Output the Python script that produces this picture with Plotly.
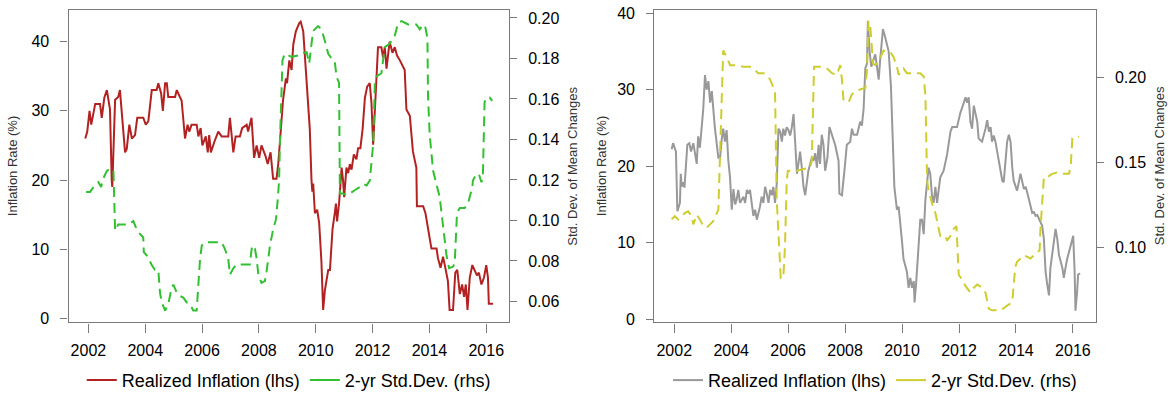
import plotly.graph_objects as go

# ---------------- data ----------------
# Left panel: realized inflation (lhs, %) and 2-yr std. dev. of mean changes (rhs)
left_infl_year = [2001.89, 2001.96, 2002.04, 2002.10, 2002.24, 2002.41, 2002.47, 2002.56, 2002.65, 2002.76,
                  2002.82, 2002.84, 2002.94, 2003.05, 2003.11, 2003.17, 2003.29, 2003.35, 2003.44, 2003.53,
                  2003.64, 2003.72, 2003.93, 2004.02, 2004.11, 2004.23, 2004.40, 2004.46, 2004.56, 2004.62,
                  2004.70, 2004.76, 2004.81, 2005.05, 2005.11, 2005.22, 2005.28, 2005.40, 2005.49, 2005.55,
                  2005.63, 2005.81, 2005.87, 2005.95, 2006.01, 2006.13, 2006.20, 2006.25, 2006.31, 2006.43,
                  2006.57, 2006.69, 2006.92, 2006.98, 2007.10, 2007.18, 2007.33, 2007.41, 2007.57, 2007.62,
                  2007.74, 2007.83, 2007.92, 2008.01, 2008.09, 2008.23, 2008.31, 2008.41, 2008.50, 2008.62,
                  2008.68, 2008.74, 2008.80, 2008.85, 2008.95, 2008.99, 2009.07, 2009.15, 2009.21, 2009.30,
                  2009.42, 2009.47, 2009.56, 2009.68, 2009.79, 2009.85, 2009.88, 2009.91, 2009.97, 2010.05,
                  2010.12, 2010.20, 2010.26, 2010.32, 2010.44, 2010.50, 2010.59, 2010.67, 2010.71, 2010.75,
                  2010.82, 2010.91, 2010.96, 2011.00, 2011.08, 2011.14, 2011.20, 2011.26, 2011.34, 2011.43,
                  2011.49, 2011.57, 2011.65, 2011.73, 2011.81, 2011.90, 2011.96, 2012.02, 2012.08, 2012.14,
                  2012.19, 2012.31, 2012.37, 2012.43, 2012.49, 2012.60, 2012.70, 2012.78, 2012.86, 2012.96,
                  2013.13, 2013.19, 2013.31, 2013.42, 2013.54, 2013.56, 2013.78, 2013.86, 2013.95, 2014.07,
                  2014.25, 2014.30, 2014.39, 2014.48, 2014.56, 2014.65, 2014.71, 2014.83, 2014.91, 2014.98,
                  2015.07, 2015.15, 2015.22, 2015.28, 2015.34, 2015.42, 2015.51, 2015.59, 2015.67, 2015.74,
                  2015.83, 2015.92, 2016.00, 2016.06, 2016.09, 2016.24]
left_infl_val = [26.0, 27.0, 30.0, 28.0, 31.0, 31.0, 29.0, 31.9, 33.0, 30.2,
                 20.0, 19.0, 31.6, 32.0, 33.0, 30.0, 24.0, 24.5, 28.0, 26.0,
                 26.5, 29.0, 29.0, 28.0, 28.5, 33.0, 33.0, 34.0, 32.5, 30.0,
                 34.0, 34.0, 32.0, 32.0, 33.0, 32.0, 31.5, 26.0, 28.0, 27.0,
                 28.0, 28.0, 26.3, 27.5, 25.0, 26.3, 24.0, 26.5, 24.0, 25.5,
                 27.0, 26.3, 26.3, 29.0, 24.0, 26.3, 26.3, 27.5, 28.0, 27.0,
                 29.0, 23.2, 25.0, 23.2, 25.0, 23.5, 22.3, 24.0, 20.2, 20.2,
                 22.3, 25.5, 28.6, 31.6, 34.7, 34.0, 37.3, 35.9, 39.6, 41.5,
                 42.7, 42.9, 41.5, 33.5, 27.4, 20.0, 18.3, 19.5, 15.2, 15.7,
                 13.8, 8.2, 1.2, 4.0, 7.0, 7.0, 12.9, 15.2, 16.6, 14.0,
                 16.6, 21.8, 20.0, 17.5, 21.8, 21.0, 22.3, 21.5, 23.7, 23.0,
                 24.6, 24.6, 27.4, 31.9, 33.5, 34.0, 31.2, 25.1, 29.8, 35.9,
                 39.2, 39.2, 37.7, 39.2, 36.1, 40.0, 38.4, 39.2, 38.0, 37.3,
                 35.9, 30.2, 29.3, 24.1, 21.8, 16.2, 16.2, 15.2, 12.9, 10.1,
                 10.1, 8.7, 7.3, 8.9, 7.3, 5.4, 1.2, 1.2, 6.6, 7.0,
                 3.5, 4.9, 3.1, 4.9, 1.2, 5.9, 7.7, 6.8, 6.2, 6.6,
                 4.9, 5.9, 7.7, 5.9, 2.1, 2.1]

left_sd_year = [2001.92, 2002.06, 2002.18, 2002.35, 2002.45, 2002.50, 2002.65, 2002.76, 2002.88, 2002.94,
                2003.05, 2003.23, 2003.41, 2003.58, 2003.70, 2003.82, 2003.93, 2003.95, 2004.05, 2004.23,
                2004.34, 2004.46, 2004.52, 2004.58, 2004.70, 2004.81, 2004.93, 2004.99, 2005.11, 2005.22,
                2005.34, 2005.46, 2005.57, 2005.69, 2005.81, 2005.93, 2005.99, 2006.10, 2006.39, 2006.69,
                2006.80, 2006.92, 2006.98, 2007.10, 2007.22, 2007.45, 2007.68, 2007.76, 2007.86, 2007.92,
                2007.98, 2008.09, 2008.21, 2008.27, 2008.39, 2008.50, 2008.60, 2008.66, 2008.71, 2008.74,
                2008.83, 2008.91, 2009.03, 2009.15, 2009.38, 2009.44, 2009.68, 2009.77, 2009.85, 2009.91,
                2010.08, 2010.20, 2010.32, 2010.44, 2010.56, 2010.67, 2010.73, 2010.82, 2010.85, 2010.96,
                2011.08, 2011.20, 2011.37, 2011.55, 2011.67, 2011.79, 2011.90, 2012.02, 2012.08, 2012.14,
                2012.31, 2012.43, 2012.60, 2012.72, 2012.78, 2012.90, 2013.02, 2013.25, 2013.54, 2013.66,
                2013.78, 2013.86, 2013.93, 2013.95, 2014.01, 2014.13, 2014.25, 2014.30, 2014.36, 2014.44,
                2014.48, 2014.54, 2014.60, 2014.69, 2014.83, 2014.89, 2014.92, 2014.97, 2015.07, 2015.24,
                2015.36, 2015.44, 2015.51, 2015.53, 2015.65, 2015.74, 2015.83, 2015.88, 2015.94, 2016.00,
                2016.12, 2016.21]
left_sd_val = [0.1141, 0.1141, 0.1165, 0.1189, 0.1165, 0.1200, 0.1245, 0.1254, 0.1250, 0.0950,
               0.0980, 0.0980, 0.0980, 0.0997, 0.0956, 0.0932, 0.0916, 0.0844, 0.0828, 0.0780,
               0.0756, 0.0756, 0.0643, 0.0595, 0.0555, 0.0587, 0.0667, 0.0683, 0.0643, 0.0627,
               0.0619, 0.0595, 0.0587, 0.0555, 0.0555, 0.0812, 0.0876, 0.0892, 0.0892, 0.0892,
               0.0860, 0.0812, 0.0732, 0.0764, 0.0783, 0.0783, 0.0783, 0.0876, 0.0860, 0.0812,
               0.0732, 0.0692, 0.0700, 0.0748, 0.0876, 0.0956, 0.1005, 0.1100, 0.1197, 0.1390,
               0.1791, 0.1823, 0.1815, 0.1808, 0.1815, 0.1823, 0.1831, 0.1775, 0.1872, 0.1936,
               0.1960, 0.1944, 0.1888, 0.1823, 0.1800, 0.1784, 0.1711, 0.1679, 0.1133, 0.1133,
               0.1125, 0.1133, 0.1149, 0.1165, 0.1181, 0.1173, 0.1197, 0.1374, 0.1679, 0.1711,
               0.1727, 0.1856, 0.1872, 0.1903, 0.1912, 0.1976, 0.1984, 0.1968, 0.1968, 0.1944,
               0.1968, 0.1952, 0.1900, 0.1615, 0.1422, 0.1245, 0.1165, 0.1149, 0.1117, 0.1021,
               0.0980, 0.0916, 0.0828, 0.0764, 0.0772, 0.0788, 0.0908, 0.1037, 0.1061, 0.1061,
               0.1085, 0.1133, 0.1165, 0.1197, 0.1229, 0.1229, 0.1189, 0.1213, 0.1583, 0.1607,
               0.1607, 0.1591]

# Right panel
right_infl_year = [2001.91, 2001.96, 2002.06, 2002.11, 2002.20, 2002.23, 2002.26, 2002.30, 2002.36, 2002.40,
                   2002.46, 2002.53, 2002.59, 2002.67, 2002.73, 2002.79, 2002.84, 2002.90, 2002.96, 2003.02,
                   2003.08, 2003.14, 2003.20, 2003.26, 2003.32, 2003.37, 2003.43, 2003.55, 2003.61, 2003.67,
                   2003.72, 2003.78, 2003.84, 2003.90, 2003.96, 2004.02, 2004.08, 2004.14, 2004.19, 2004.25,
                   2004.31, 2004.43, 2004.49, 2004.55, 2004.60, 2004.66, 2004.78, 2004.84, 2004.90, 2005.01,
                   2005.07, 2005.13, 2005.19, 2005.25, 2005.31, 2005.37, 2005.43, 2005.48, 2005.54, 2005.60,
                   2005.66, 2005.72, 2005.78, 2005.83, 2005.89, 2005.95, 2006.01, 2006.07, 2006.13, 2006.19,
                   2006.25, 2006.31, 2006.36, 2006.42, 2006.48, 2006.54, 2006.60, 2006.66, 2006.71, 2006.83,
                   2006.89, 2006.95, 2007.01, 2007.07, 2007.12, 2007.18, 2007.24, 2007.30, 2007.38, 2007.45,
                   2007.54, 2007.65, 2007.77, 2007.80, 2007.89, 2007.94, 2008.00, 2008.06, 2008.18, 2008.24,
                   2008.30, 2008.42, 2008.47, 2008.53, 2008.59, 2008.65, 2008.71, 2008.77, 2008.80, 2008.86,
                   2008.92, 2009.00, 2009.06, 2009.12, 2009.18, 2009.24, 2009.33, 2009.41, 2009.53, 2009.61,
                   2009.68, 2009.73, 2009.82, 2009.88, 2010.00, 2010.05, 2010.17, 2010.23, 2010.29, 2010.35,
                   2010.41, 2010.44, 2010.50, 2010.58, 2010.64, 2010.70, 2010.76, 2010.82, 2010.88, 2010.93,
                   2010.99, 2011.05, 2011.11, 2011.17, 2011.23, 2011.29, 2011.34, 2011.46, 2011.58, 2011.70,
                   2011.76, 2011.93, 2012.05, 2012.17, 2012.23, 2012.29, 2012.34, 2012.40, 2012.46, 2012.52,
                   2012.58, 2012.64, 2012.69, 2012.81, 2012.93, 2012.99, 2013.05, 2013.11, 2013.16, 2013.22,
                   2013.28, 2013.40, 2013.46, 2013.52, 2013.57, 2013.69, 2013.75, 2013.81, 2013.87, 2013.92,
                   2014.04, 2014.16, 2014.28, 2014.34, 2014.40, 2014.45, 2014.51, 2014.57, 2014.63, 2014.69,
                   2014.75, 2014.80, 2014.86, 2014.92, 2014.98, 2015.04, 2015.10, 2015.16, 2015.21, 2015.27,
                   2015.33, 2015.39, 2015.45, 2015.51, 2015.63, 2015.68, 2015.74, 2015.80, 2015.92, 2016.01,
                   2016.06, 2016.09, 2016.15, 2016.18, 2016.25]
right_infl_val = [22.2, 23.0, 21.9, 14.1, 15.2, 19.0, 17.3, 17.9, 17.2, 19.8,
                  22.8, 23.0, 21.9, 23.0, 21.5, 20.3, 23.9, 22.4, 24.9, 27.5,
                  31.9, 30.0, 31.1, 28.3, 29.8, 27.0, 24.9, 21.1, 21.1, 23.6,
                  24.9, 23.2, 24.7, 20.7, 18.5, 14.3, 17.0, 15.0, 15.6, 16.9,
                  15.2, 16.0, 15.2, 16.9, 16.4, 16.9, 13.5, 14.3, 13.0, 14.7,
                  16.0, 15.2, 17.3, 16.4, 15.2, 16.9, 16.2, 17.3, 15.2, 17.7,
                  24.9, 24.5, 23.2, 24.9, 24.0, 25.1, 24.7, 24.0, 25.1, 26.8,
                  23.6, 19.0, 20.3, 21.9, 19.8, 17.3, 16.2, 18.5, 19.4, 21.1,
                  20.7, 21.7, 19.8, 22.8, 20.3, 24.1, 22.8, 19.4, 21.1, 25.1,
                  24.1, 22.8, 20.7, 16.4, 16.2, 18.5, 20.3, 22.8, 23.2, 24.9,
                  24.1, 24.1, 24.9, 25.8, 25.3, 27.5, 32.8, 33.4, 39.0, 35.0,
                  33.0, 33.8, 34.6, 33.0, 31.3, 34.3, 37.9, 36.8, 35.0, 30.4,
                  21.9, 17.3, 14.3, 14.7, 10.1, 7.9, 6.2, 4.1, 5.4, 4.1,
                  5.0, 2.2, 5.0, 9.6, 13.0, 13.0, 11.1, 15.6, 18.1, 19.8,
                  19.0, 16.2, 15.2, 17.3, 15.2, 17.3, 18.5, 19.4, 21.5, 24.5,
                  25.1, 25.1, 27.0, 28.3, 29.0, 28.3, 29.0, 25.8, 24.9, 27.9,
                  27.0, 25.8, 23.6, 23.2, 24.9, 26.0, 24.5, 25.1, 23.2, 24.0,
                  23.2, 20.7, 19.8, 18.1, 17.9, 23.2, 24.1, 23.2, 19.8, 18.1,
                  16.8, 19.0, 17.0, 17.3, 16.5, 15.6, 14.7, 13.9, 14.0, 13.5,
                  13.6, 13.2, 12.8, 12.2, 10.5, 6.2, 4.5, 3.1, 6.7, 8.4,
                  9.6, 11.8, 10.5, 8.4, 6.7, 5.4, 6.7, 7.9, 9.6, 10.9,
                  6.2, 1.1, 3.7, 5.8, 6.0]

right_sd_year = [2001.91, 2002.02, 2002.14, 2002.26, 2002.38, 2002.49, 2002.61, 2002.67, 2002.79, 2002.90,
                 2003.02, 2003.14, 2003.26, 2003.37, 2003.47, 2003.55, 2003.58, 2003.67, 2003.72, 2003.84,
                 2003.96, 2004.19, 2004.43, 2004.66, 2004.78, 2004.95, 2005.13, 2005.25, 2005.37, 2005.46,
                 2005.54, 2005.60, 2005.66, 2005.72, 2005.74, 2005.83, 2005.89, 2005.95, 2005.99, 2006.07,
                 2006.31, 2006.54, 2006.77, 2006.83, 2006.91, 2007.12, 2007.36, 2007.54, 2007.71, 2007.83,
                 2007.89, 2007.94, 2008.00, 2008.12, 2008.24, 2008.36, 2008.53, 2008.71, 2008.77, 2008.82,
                 2008.88, 2008.94, 2008.98, 2009.06, 2009.18, 2009.30, 2009.35, 2009.47, 2009.59, 2009.70,
                 2009.82, 2009.88, 2009.96, 2010.05, 2010.17, 2010.41, 2010.64, 2010.76, 2010.82, 2010.88,
                 2010.93, 2011.05, 2011.17, 2011.29, 2011.34, 2011.52, 2011.58, 2011.70, 2011.81, 2011.91,
                 2011.95, 2011.99, 2012.11, 2012.23, 2012.40, 2012.52, 2012.64, 2012.81, 2012.93, 2013.05,
                 2013.16, 2013.46, 2013.69, 2013.87, 2013.92, 2013.98, 2014.04, 2014.16, 2014.28, 2014.40,
                 2014.51, 2014.63, 2014.75, 2014.83, 2014.86, 2014.92, 2014.98, 2015.10, 2015.27, 2015.45,
                 2015.63, 2015.86, 2015.92, 2015.98, 2016.09, 2016.21]
right_sd_val = [0.1166, 0.1185, 0.1166, 0.1185, 0.1204, 0.1213, 0.1185, 0.1137, 0.1194, 0.1166,
                0.1127, 0.1118, 0.1137, 0.1156, 0.1194, 0.1223, 0.1394, 0.1947, 0.2156, 0.2118,
                0.2070, 0.2070, 0.2061, 0.2061, 0.2051, 0.2023, 0.2023, 0.2013, 0.1985, 0.1947,
                0.1909, 0.1280, 0.1100, 0.0918, 0.0823, 0.0823, 0.1013, 0.1394, 0.1451, 0.1451,
                0.1451, 0.1461, 0.1470, 0.1509, 0.2061, 0.2061, 0.2051, 0.2023, 0.2013, 0.2070,
                0.1985, 0.1870, 0.1861, 0.1851, 0.1899, 0.1918, 0.1927, 0.1937, 0.2042, 0.2327,
                0.2309, 0.2137, 0.2080, 0.2070, 0.2099, 0.2137, 0.2156, 0.2147, 0.2147, 0.2118,
                0.2061, 0.2013, 0.2033, 0.2051, 0.2023, 0.2023, 0.2023, 0.2004, 0.1890, 0.1394,
                0.1337, 0.1261, 0.1204, 0.1109, 0.1070, 0.1070, 0.1042, 0.1070, 0.1109, 0.1127,
                0.1013, 0.0842, 0.0813, 0.0775, 0.0737, 0.0766, 0.0785, 0.0766, 0.0737, 0.0642,
                0.0633, 0.0633, 0.0661, 0.0680, 0.0785, 0.0890, 0.0918, 0.0937, 0.0956, 0.0947,
                0.0937, 0.0956, 0.0975, 0.0985, 0.1109, 0.1242, 0.1413, 0.1413, 0.1433, 0.1442,
                0.1433, 0.1433, 0.1470, 0.1642, 0.1651, 0.1651]

year_ticks = [2002, 2004, 2006, 2008, 2010, 2012, 2014, 2016]
left_lhs_ticks = [0, 10, 20, 30, 40]
left_rhs_ticks = [0.06, 0.08, 0.10, 0.12, 0.14, 0.16, 0.18, 0.20]
right_lhs_ticks = [0, 10, 20, 30, 40]
right_rhs_ticks = [0.10, 0.15, 0.20]

lhs_title = "Inflation Rate (%)"
rhs_title = "Std. Dev. of Mean Changes"
name_infl = "Realized Inflation (lhs)"
name_sd = "2-yr Std.Dev. (rhs)"

# ---------------- styles ----------------
FONT = "Liberation Sans, Arial, sans-serif"
RED = "#B22222"
GREEN = "#32C032"
GRAY = "#999999"
YELLOW = "#CDCD30"
BOX = "#7a7a7a"

fig = go.Figure()

fig.add_trace(go.Scatter(x=left_infl_year, y=left_infl_val, mode="lines",
                         line=dict(color=RED, width=2), xaxis="x", yaxis="y",
                         showlegend=False, hoverinfo="skip"))
fig.add_trace(go.Scatter(x=left_sd_year, y=left_sd_val, mode="lines",
                         line=dict(color=GREEN, width=2, dash="10px,6px"), xaxis="x", yaxis="y2",
                         showlegend=False, hoverinfo="skip"))
fig.add_trace(go.Scatter(x=right_infl_year, y=right_infl_val, mode="lines",
                         line=dict(color=GRAY, width=2), xaxis="x2", yaxis="y3",
                         showlegend=False, hoverinfo="skip"))
fig.add_trace(go.Scatter(x=right_sd_year, y=right_sd_val, mode="lines",
                         line=dict(color=YELLOW, width=2, dash="10px,6px"), xaxis="x2", yaxis="y4",
                         showlegend=False, hoverinfo="skip"))

# legend entries (solid keys, as in the reference)
for nm, col, lg, xa, ya in [(name_infl, RED, "legend", "x", "y"), (name_sd, GREEN, "legend", "x", "y"),
                            (name_infl, GRAY, "legend2", "x2", "y3"), (name_sd, YELLOW, "legend2", "x2", "y3")]:
    fig.add_trace(go.Scatter(x=[None], y=[None], mode="lines", name=nm,
                             line=dict(color=col, width=2), legend=lg, xaxis=xa, yaxis=ya))

W, H = 1172, 401
top_px, bot_px = 5, 325.6
ydom = [1 - bot_px / H, 1 - top_px / H]
xdom_l = [68.5 / W, 509 / W]
xdom_r = [654.3 / W, 1095.7 / W]

tickfont = dict(family=FONT, size=16, color="#000000")

def xax(dom, anchor):
    return dict(domain=dom, anchor=anchor, range=[2001.30, 2016.80], tickvals=year_ticks,
                showline=True, linecolor=BOX, linewidth=1.2, mirror=True,
                ticks="outside", ticklen=9, tickcolor=BOX, tickwidth=1.2,
                showgrid=False, zeroline=False, tickfont=tickfont, ticklabelstandoff=4,
                ticklabeloverflow="allow")

def ylax(dom, anchor, rng, tv):
    return dict(domain=dom, anchor=anchor, range=rng, tickvals=tv,
                showline=True, linecolor=BOX, linewidth=1.2, mirror=True,
                ticks="outside", ticklen=7, tickcolor=BOX, tickwidth=1.2,
                showgrid=False, zeroline=False, tickfont=tickfont, ticklabelstandoff=8,
                ticklabeloverflow="allow")

def yrax(over, anchor, rng, tv, fmt):
    return dict(overlaying=over, anchor=anchor, side="right", range=rng, tickvals=tv,
                tickformat=fmt, showline=False, ticks="outside", ticklen=7, tickcolor=BOX,
                tickwidth=1.2, showgrid=False, zeroline=False, tickfont=tickfont,
                ticklabelstandoff=8, ticklabeloverflow="allow")

leg_common = dict(orientation="h", yanchor="middle", xanchor="center",
                  font=dict(family=FONT, size=18, color="#000000"),
                  bgcolor="rgba(0,0,0,0)", itemwidth=30, tracegroupgap=0)

fig.update_layout(
    width=W, height=H, margin=dict(l=0, r=0, t=0, b=0),
    paper_bgcolor="white", plot_bgcolor="white",
    font=dict(family=FONT),
    xaxis=xax(xdom_l, "y"),
    yaxis=ylax(ydom, "x", [-0.6, 44.6], left_lhs_ticks),
    yaxis2=yrax("y", "x", [0.0496, 0.2040], left_rhs_ticks, ".2f"),
    xaxis2=xax(xdom_r, "y3"),
    yaxis3=ylax(ydom, "x2", [-0.43, 40.42], right_lhs_ticks),
    yaxis4=yrax("y3", "x2", [0.0562, 0.2394], right_rhs_ticks, ".2f"),
    legend=dict(x=(xdom_l[0] + xdom_l[1]) / 2, y=1 - 385 / H, **leg_common),
    legend2=dict(x=(xdom_r[0] + xdom_r[1]) / 2, y=1 - 385 / H, **leg_common),
)

ymid = 1 - ((top_px + bot_px) / 2) / H
title_font = dict(family=FONT, size=13, color="#333333")
for xp, txt in [(12, lhs_title), (572.5, rhs_title), (601, lhs_title), (1159, rhs_title)]:
    fig.add_annotation(x=xp / W, y=ymid, xref="paper", yref="paper", text=txt,
                       textangle=-90, showarrow=False, font=title_font,
                       xanchor="center", yanchor="middle")

fig.write_html("out.html")
